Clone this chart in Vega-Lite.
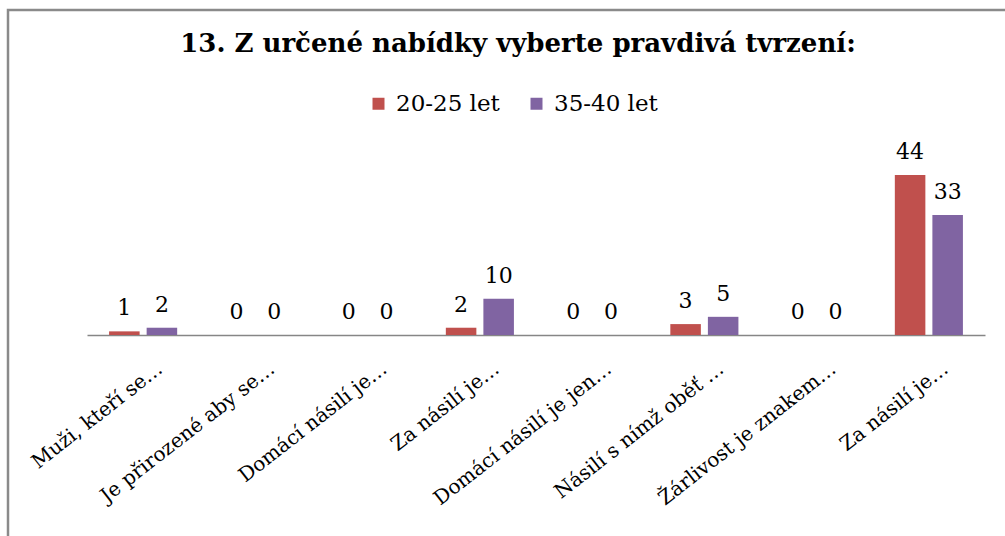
{
  "$schema": "https://vega.github.io/schema/vega-lite/v6.json",
  "width": 1000,
  "height": 530,
  "autosize": {"type": "none"},
  "padding": {"left": 8, "top": 10, "right": -3, "bottom": -4},
  "background": "white",
  "config": {
    "view": {"stroke": "#8a8a8a", "strokeWidth": 2.5},
    "font": "DejaVu Serif"
  },
  "title": {
    "text": "13. Z určené nabídky vyberte pravdivá tvrzení:",
    "font": "DejaVu Serif",
    "fontSize": 26,
    "fontWeight": "bold",
    "color": "black",
    "anchor": "middle",
    "frame": "group",
    "offset": -47,
    "dx": 10
  },
  "data": {
    "values": [
      {"cat": "Muži, kteří se…|1", "group": "20-25 let", "value": 1},
      {"cat": "Muži, kteří se…|1", "group": "35-40 let", "value": 2},
      {"cat": "Je přirozené aby se…|2", "group": "20-25 let", "value": 0},
      {"cat": "Je přirozené aby se…|2", "group": "35-40 let", "value": 0},
      {"cat": "Domácí násilí je…|3", "group": "20-25 let", "value": 0},
      {"cat": "Domácí násilí je…|3", "group": "35-40 let", "value": 0},
      {"cat": "Za násilí je…|4", "group": "20-25 let", "value": 2},
      {"cat": "Za násilí je…|4", "group": "35-40 let", "value": 10},
      {"cat": "Domácí násilí je jen…|5", "group": "20-25 let", "value": 0},
      {"cat": "Domácí násilí je jen…|5", "group": "35-40 let", "value": 0},
      {"cat": "Násilí s nímž oběť …|6", "group": "20-25 let", "value": 3},
      {"cat": "Násilí s nímž oběť …|6", "group": "35-40 let", "value": 5},
      {"cat": "Žárlivost je znakem…|7", "group": "20-25 let", "value": 0},
      {"cat": "Žárlivost je znakem…|7", "group": "35-40 let", "value": 0},
      {"cat": "Za násilí je…|8", "group": "20-25 let", "value": 44},
      {"cat": "Za násilí je…|8", "group": "35-40 let", "value": 33}
    ]
  },
  "encoding": {
    "x": {
      "field": "cat",
      "type": "nominal",
      "sort": null,
      "scale": {"range": [79, 977], "paddingInner": 0.3934, "paddingOuter": 0.1967},
      "axis": {
        "title": null,
        "orient": "bottom",
        "offset": -205,
        "domain": true,
        "domainColor": "#868686",
        "domainWidth": 1.5,
        "ticks": false,
        "tickSize": 0,
        "grid": false,
        "labelAngle": -38,
        "labelAlign": "right",
        "labelBaseline": "middle",
        "labelFont": "DejaVu Serif",
        "labelFontSize": 20,
        "labelColor": "black",
        "labelExpr": "split(datum.value, '|')[0]",
        "labelOffset": 17,
        "labelPadding": 31,
        "labelLimit": 0,
        "labelOverlap": false
      }
    },
    "xOffset": {
      "field": "group",
      "type": "nominal",
      "scale": {"paddingInner": 0.187, "paddingOuter": 0}
    },
    "y": {
      "field": "value",
      "type": "quantitative",
      "scale": {"domain": [0, 50], "range": [325, 143.2], "nice": false, "zero": true},
      "axis": null
    }
  },
  "layer": [
    {
      "mark": {"type": "bar", "opacity": 1},
      "encoding": {
        "color": {
          "field": "group",
          "type": "nominal",
          "scale": {"range": ["#C0504D", "#8064A2"]},
          "legend": {
            "title": null,
            "orient": "none",
            "legendX": 359,
            "legendY": 82,
            "direction": "horizontal",
            "symbolType": "square",
            "symbolSize": 144,
            "symbolStrokeWidth": 0,
            "symbolOpacity": 1,
            "labelFont": "DejaVu Serif",
            "labelFontSize": 23,
            "labelColor": "black",
            "labelOffset": 6,
            "columnPadding": 25
          }
        }
      }
    },
    {
      "mark": {
        "type": "text",
        "font": "DejaVu Serif",
        "fontSize": 22,
        "baseline": "alphabetic",
        "dy": -16,
        "color": "black"
      },
      "encoding": {
        "text": {"field": "value", "type": "quantitative"}
      }
    }
  ]
}
